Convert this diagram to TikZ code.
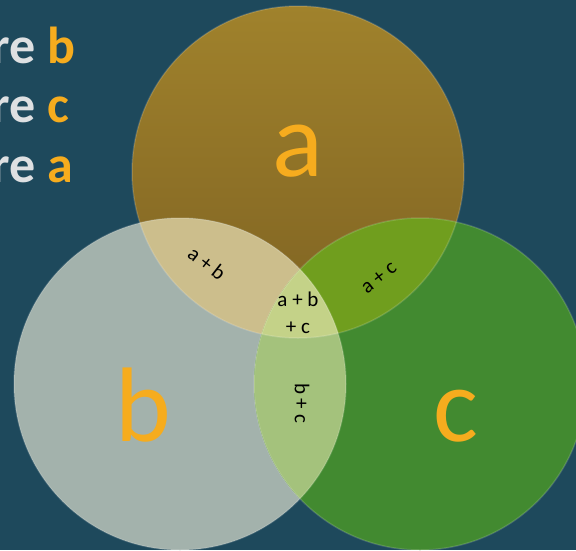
\documentclass[tikz,border=0pt]{standalone}
\usepackage{fontspec}
\setmainfont{Carlito}

\definecolor{bgteal}{RGB}{30,73,92}
\definecolor{aTop}{RGB}{160,130,44}
\definecolor{aBot}{RGB}{126,98,34}
\definecolor{bFill}{RGB}{163,178,172}
\definecolor{cFill}{RGB}{66,138,48}
\definecolor{abFill}{RGB}{204,190,140}
\definecolor{acFill}{RGB}{112,158,30}
\definecolor{bcFill}{RGB}{164,194,124}
\definecolor{abcFill}{RGB}{196,210,136}
\definecolor{gold}{RGB}{246,172,30}
\definecolor{silver}{RGB}{222,224,226}

\begin{document}
\begin{tikzpicture}[x=1pt, y=-1pt, line join=round,
  rim/.style={draw=white, draw opacity=0.15, line width=1.5pt},
  bigletter/.style={anchor=base, text=gold, font=\fontsize{106}{106}\selectfont},
  sumlabel/.style={text=black, font=\fontsize{21}{27}\selectfont, align=center},
  sideline/.style={anchor=base west, font=\fontsize{52}{52}\selectfont\bfseries}]

%-----------------------
% 参数：三个圆同半径
%-----------------------
\def\R{166pt}
\coordinate (A) at (298,172);   % 圆 a
\coordinate (B) at (180,384);   % 圆 b
\coordinate (C) at (420,384);   % 圆 c

%-----------------------
% 背景
%-----------------------
\fill[bgteal] (0,0) rectangle (576,550);
\useasboundingbox (0,0) rectangle (576,550);

%-----------------------
% 三个圆
%-----------------------
\shade[top color=aTop, bottom color=aBot] (A) circle (\R);
\fill[bFill] (B) circle (\R);
\fill[cFill] (C) circle (\R);

%-----------------------
% 两两相交的部分
%-----------------------
\begin{scope}
  \clip (A) circle (\R);
  \fill[abFill] (B) circle (\R);
  \fill[acFill] (C) circle (\R);
\end{scope}
\begin{scope}
  \clip (B) circle (\R);
  \fill[bcFill] (C) circle (\R);
\end{scope}

%-----------------------
% 三者共有的部分
%-----------------------
\begin{scope}
  \clip (A) circle (\R);
  \clip (B) circle (\R);
  \fill[abcFill] (C) circle (\R);
\end{scope}

% 圆的浅色边缘
\draw[rim] (A) circle (\R);
\draw[rim] (B) circle (\R);
\draw[rim] (C) circle (\R);

%-----------------------
% 标注
%-----------------------
\node[bigletter] (lblA) at (298,176) {a};
\node[bigletter] (lblB) at (143,441) {b};
\node[bigletter] (lblC) at (456,441) {c};

\node[sumlabel, rotate=-38] (lblAB) at (207,263) {a + b};
\node[sumlabel, rotate=38]  (lblAC) at (379,278) {a + c};
\node[sumlabel, rotate=-90] (lblBC) at (302,403) {b + c};
\node[sumlabel] (lblABC) at (298,313) {a + b\\+ c};

% 左上角被截去的文字
\node[sideline] (lineB) at (-12,63)  {\textcolor{silver}{re} \textcolor{gold}{b}};
\node[sideline] (lineC) at (-12,122) {\textcolor{silver}{re} \textcolor{gold}{c}};
\node[sideline] (lineA) at (-12,182) {\textcolor{silver}{re} \textcolor{gold}{a}};

\end{tikzpicture}
\end{document}
